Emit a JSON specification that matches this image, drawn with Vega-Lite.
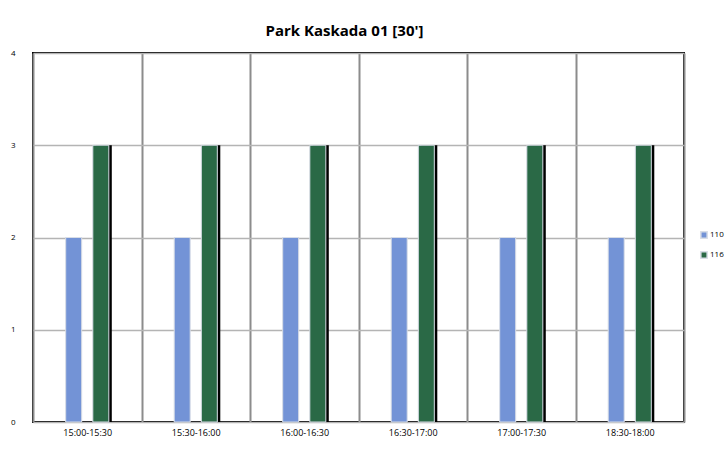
{
  "$schema": "https://vega.github.io/schema/vega-lite/v6.json",
  "width": 651,
  "height": 369,
  "autosize": {"type": "none"},
  "padding": {"left": 33, "top": 53, "right": 41, "bottom": 28},
  "background": "white",
  "title": {
    "text": "Park Kaskada 01 [30']",
    "font": "Open Sans",
    "fontSize": 15,
    "fontWeight": "bold",
    "color": "#000000",
    "offset": 10,
    "dx": -14
  },
  "data": {
    "values": [
      {"interval": "15:00-15:30", "series": "110", "value": 2},
      {"interval": "15:00-15:30", "series": "116", "value": 3},
      {"interval": "15:30-16:00", "series": "110", "value": 2},
      {"interval": "15:30-16:00", "series": "116", "value": 3},
      {"interval": "16:00-16:30", "series": "110", "value": 2},
      {"interval": "16:00-16:30", "series": "116", "value": 3},
      {"interval": "16:30-17:00", "series": "110", "value": 2},
      {"interval": "16:30-17:00", "series": "116", "value": 3},
      {"interval": "17:00-17:30", "series": "110", "value": 2},
      {"interval": "17:00-17:30", "series": "116", "value": 3},
      {"interval": "18:30-18:00", "series": "110", "value": 2},
      {"interval": "18:30-18:00", "series": "116", "value": 3}
    ]
  },
  "encoding": {
    "x": {
      "field": "interval",
      "type": "nominal",
      "sort": null,
      "scale": {"paddingInner": 0, "paddingOuter": 0},
      "axis": {
        "title": null,
        "labelAngle": 0,
        "labelFont": "Open Sans",
        "labelFontSize": 9,
        "labelColor": "#000000",
        "labelPadding": 6,
        "ticks": false,
        "domain": false,
        "tickBand": "extent",
        "grid": true,
        "gridColor": "#8c8c8c",
        "gridWidth": 2
      }
    },
    "y": {
      "field": "value",
      "type": "quantitative",
      "scale": {"domain": [0, 4]},
      "axis": {
        "title": null,
        "values": [0, 1, 2, 3, 4],
        "labelFont": "Open Sans",
        "labelFontSize": 8,
        "labelColor": "#000000",
        "labelPadding": 18,
        "ticks": false,
        "domain": false,
        "grid": true,
        "gridColor": "#b4b4b4",
        "gridWidth": 1.5
      }
    }
  },
  "layer": [
    {
      "mark": {"type": "bar", "color": "#000000", "width": 16},
      "encoding": {
        "xOffset": {
          "field": "series",
          "type": "nominal",
          "scale": {"paddingInner": 0, "paddingOuter": 1, "align": 0.555}
        },
        "opacity": {
          "condition": {"test": "datum.series == '116'", "value": 1},
          "value": 0
        }
      }
    },
    {
      "mark": {"type": "bar", "stroke": "#d8dde6", "strokeWidth": 1, "width": 16},
      "encoding": {
        "xOffset": {
          "field": "series",
          "type": "nominal",
          "scale": {"paddingInner": 0, "paddingOuter": 1}
        },
        "color": {
          "field": "series",
          "type": "nominal",
          "scale": {"domain": ["110", "116"], "range": ["#7393d6", "#2a6946"]},
          "legend": {
            "title": null,
            "orient": "none",
            "legendX": 667,
            "legendY": 178,
            "symbolType": "square",
            "symbolSize": 40,
            "labelFont": "Open Sans",
            "labelFontSize": 8,
            "labelColor": "#000000",
            "rowPadding": 6,
            "labelOffset": 2
          }
        }
      }
    }
  ],
  "resolve": {"scale": {"xOffset": "independent"}},
  "config": {
    "view": {"stroke": "#000000", "strokeWidth": 2}
  }
}
